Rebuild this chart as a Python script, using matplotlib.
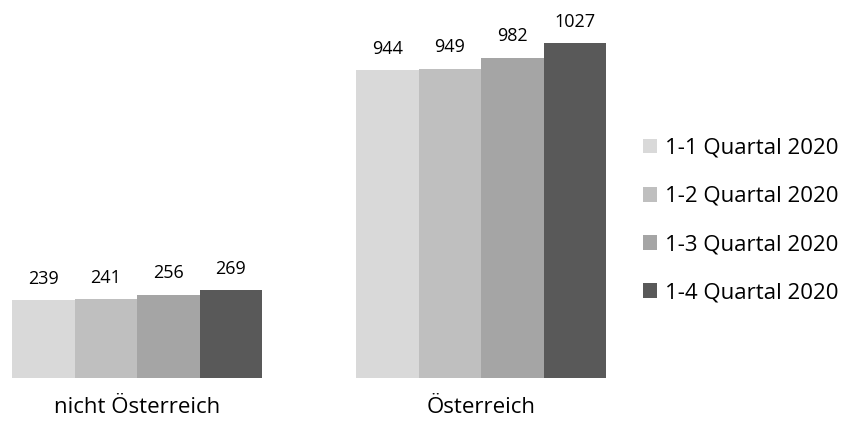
import matplotlib
matplotlib.use("Agg")
import matplotlib.pyplot as plt
import numpy as np

categories = ["nicht Österreich", "Österreich"]
series_labels = ["1-1 Quartal 2020", "1-2 Quartal 2020", "1-3 Quartal 2020", "1-4 Quartal 2020"]
values = [
    [239, 944],
    [241, 949],
    [256, 982],
    [269, 1027],
]
colors = ["#d9d9d9", "#bfbfbf", "#a5a5a5", "#595959"]

plt.rcParams['font.family'] = ['Open Sans', 'DejaVu Sans']

W, H = 850, 424
fig = plt.figure(figsize=(W / 100, H / 100), dpi=100)
# axes from pixel x 0..610, y baseline at 378 px, top at 10 px
ax = fig.add_axes([0, (H - 378) / H, 610 / W, 368 / H])
scale = 334.7 / 1027  # px per unit
ax.set_ylim(0, 368 / scale)
ax.set_xlim(-137 / 344, (610 - 137) / 344)

x = np.arange(len(categories))
w = 62.5 / 344
for i, (lab, vals, c) in enumerate(zip(series_labels, values, colors)):
    pos = x + (i - 1.5) * w
    bars = ax.bar(pos, vals, width=w, color=c, label=lab, linewidth=0)
    for p, v in zip(pos, vals):
        ax.annotate(str(v), (p, v), xytext=(0, 9), textcoords="offset points",
                    ha="center", va="bottom", fontsize=13, color="#000000")

ax.set_xticks(x)
ax.set_xticklabels(categories, fontsize=16)
ax.tick_params(axis="x", length=0, pad=14)
ax.set_yticks([])
for s in ax.spines.values():
    s.set_visible(False)

fig.legend(loc="center left", bbox_to_anchor=(643 / W, 1 - 220.5 / H), frameon=False,
           fontsize=16, handlelength=0.65, handleheight=0.65, handletextpad=0.32,
           labelspacing=1.22, borderaxespad=0, borderpad=0)

fig.savefig("out.png", dpi=100)
